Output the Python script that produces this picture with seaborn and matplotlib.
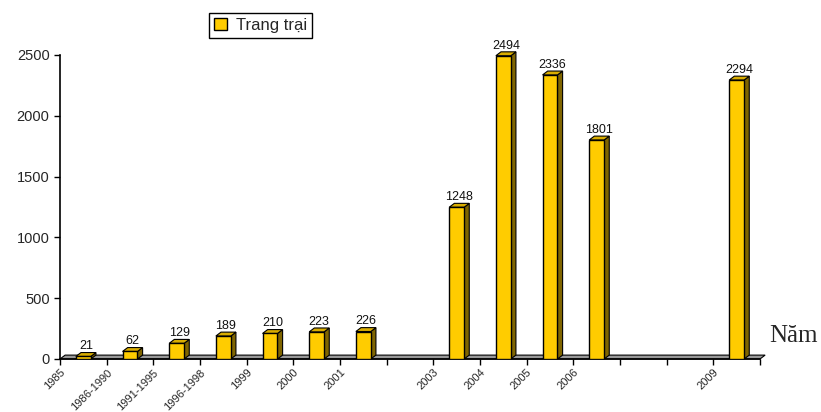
import numpy as np
import pandas as pd
import matplotlib
matplotlib.use("Agg")
import matplotlib.pyplot as plt
from matplotlib.patches import Polygon, Patch
import seaborn as sns

# ---------- DATA ----------

slots = ["1985", "1986-1990", "1991-1995", "1996-1998", "1999", "2000", "2001",
         "2002", "2003", "2004", "2005", "2006", "2007", "2008", "2009"]
values = [21, 62, 129, 189, 210, 223, 226, np.nan, 1248, 2494, 2336, 1801,
          np.nan, np.nan, 2294]
tick_labels = ["1985", "1986-1990", "1991-1995", "1996-1998", "1999", "2000", "2001",
               "", "2003", "2004", "2005", "2006", "", "", "2009", ""]
series_name = "Trang trại"
y_ticks = [0, 500, 1000, 1500, 2000, 2500]

FRONT = "#FFCC00"
SIDE = "#7F6500"
TOP = "#D9AD00"
FLOOR = "#999999"

# depth of the fake 3d look, in data units
DX = 0.11
DY = 32

# ---------- PLOT ----------

sns.set_style("white")
plt.rcParams["font.family"] = ["Liberation Sans", "DejaVu Sans"]

df = pd.DataFrame({"slot": slots, "value": values}).dropna()

fig = plt.figure(figsize=(8.21, 4.12), dpi=100)
ax = fig.add_axes([60 / 821, 1 - 359 / 412, 700 / 821, 304 / 412])

sns.barplot(data=df, x="slot", y="value", order=slots, color=FRONT,
            saturation=1, edgecolor="black", linewidth=1, width=0.32,
            ax=ax, zorder=3)

n = len(slots)
ax.set_xlim(-0.5, n - 0.5)
ax.set_ylim(0, 2500)

# floor
floor = Polygon([(-0.5, 0), (-0.5 + DX, DY), (n - 0.5 + DX, DY), (n - 0.5, 0)],
                closed=True, facecolor=FLOOR, edgecolor="black", lw=0.8,
                zorder=1, clip_on=False)
ax.add_patch(floor)

# side and top faces of each bar, plus value labels
for bar in list(ax.patches):
    if bar is floor:
        continue
    h = bar.get_height()
    if not np.isfinite(h):
        continue
    x0 = bar.get_x()
    x1 = x0 + bar.get_width()
    side = Polygon([(x1, 0), (x1 + DX, DY), (x1 + DX, h + DY), (x1, h)],
                   closed=True, facecolor=SIDE, edgecolor="black", lw=0.8,
                   zorder=2, clip_on=False)
    top = Polygon([(x0, h), (x0 + DX, h + DY), (x1 + DX, h + DY), (x1, h)],
                  closed=True, facecolor=TOP, edgecolor="black", lw=0.8,
                  zorder=2, clip_on=False)
    ax.add_patch(side)
    ax.add_patch(top)
    ax.text((x0 + x1 + DX) / 2, h + DY + 2, f"{int(h)}", ha="center",
            va="bottom", fontsize=9, color="#111111", zorder=4)

# axes styling
for s in ["top", "right"]:
    ax.spines[s].set_visible(False)
ax.spines["left"].set_color("black")
ax.spines["bottom"].set_color("black")
ax.spines["left"].set_linewidth(1.2)
ax.spines["bottom"].set_linewidth(1.2)

ax.set_yticks(y_ticks)
ax.set_yticklabels([str(t) for t in y_ticks], fontsize=10.5)
ax.set_xticks(np.arange(-0.5, n, 1.0))
ax.set_xticklabels(tick_labels, rotation=45, ha="right",
                   rotation_mode="anchor", fontsize=8)
ax.tick_params(axis="x", pad=2)
ax.tick_params(axis="both", direction="out", length=4, width=1,
               color="black", bottom=True, left=True)
ax.set_xlabel("")
ax.set_ylabel("")
ax.grid(False)

fig.text(769 / 821, 1 - 342 / 412, "Năm", family="Liberation Serif",
         fontsize=18, ha="left", va="baseline")

handle = Patch(facecolor=FRONT, edgecolor="black", linewidth=1)
fig.legend([handle], [series_name], loc="upper left",
           bbox_to_anchor=(209 / 821, 1 - 13 / 412), borderaxespad=0,
           fontsize=12, frameon=True, fancybox=False, edgecolor="black",
           framealpha=1, handlelength=0.8, handleheight=0.7,
           handletextpad=0.5, borderpad=0.3)

fig.savefig("out.png", dpi=100)
